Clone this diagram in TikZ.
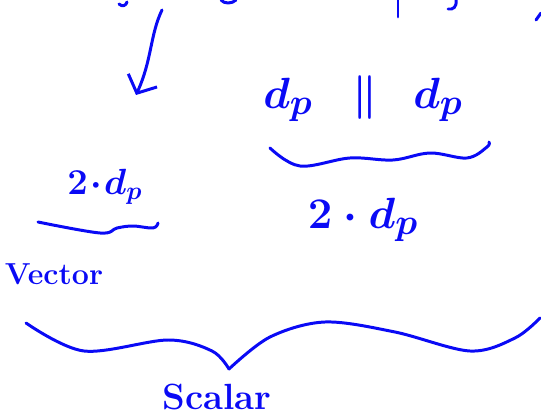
\documentclass[tikz,border=0pt]{standalone}
\usepackage{amsmath, amssymb}
\usepackage{tikz}
\usetikzlibrary{arrows.meta, calc, positioning}
\definecolor{tinte}{HTML}{0A0AF5}

\begin{document}
\begin{tikzpicture}[
        x=0.02cm, y=-0.02cm,
        every node/.style={text=tinte, inner sep=0pt},
        strich/.style={draw=tinte, line width=1.7pt, line cap=round, line join=round},
      ]
      \useasboundingbox (0,0) rectangle (541,415);

      % Reste der Zeile oben (abgeschnitten)
      \draw[strich] (119,4) .. controls (122,7) and (126,6) .. (127,2);
      \draw[strich] (221,0) .. controls (224,4) and (232,4) .. (236,0);
      \draw[strich] (398,0) -- (398,17);
      \draw[strich] (456,0) .. controls (457,7) and (453,10) .. (448,9);
      \draw[strich] (541,13) -- (536,20);

      % Pfeil nach unten
      \coordinate (pfeiloben) at (162,10);
      \coordinate (pfeilspitze) at (136,95);
      \draw[strich, -{Straight Barb[length=8pt, width=18pt, line width=1.7pt]}]
        (pfeiloben) .. controls (150,35) and (152,60) .. (pfeilspitze);

      % obere Zeile: d_p || d_p
      \node[font=\Huge\boldmath] (dlinks) at (288,100) {$d_p$};
      \node[font=\Huge\boldmath] (parallel) at (365,98) {$\parallel$};
      \node[font=\Huge\boldmath] (drechts) at (438,100) {$d_p$};

      % Klammer unter d_p || d_p
      \draw[strich] plot[smooth, tension=0.6] coordinates {
        (270,148) (300,166) (350,158) (393,160) (430,153) (467,158) (487,147) (489,142)};
      \node[font=\Huge\boldmath] (summe) at (363,220) {$2\cdot d_p$};

      % links: 2.d_p und Vector
      \node[font=\huge\boldmath] (produkt) at (105,187) {$2\!\cdot\!d_p$};
      \draw[strich] plot[smooth, tension=0.6] coordinates {
        (38,222) (100,233) (117,228) (133,226) (153,228) (158,223)};
      \node[font=\LARGE\bfseries] (vektor) at (54,274) {Vector};

      % grosse Klammer unten
      \draw[strich] plot[smooth, tension=0.55] coordinates {
        (26,323) (84,351) (168,340) (212,351) (229,369)};
      \draw[strich] plot[smooth, tension=0.55] coordinates {
        (229,369) (270,337) (325,322) (395,332) (470,351) (515,338) (540,318)};
      \node[font=\huge\bfseries] (skalar) at (217,397) {Scalar};
    \end{tikzpicture}
\end{document}
